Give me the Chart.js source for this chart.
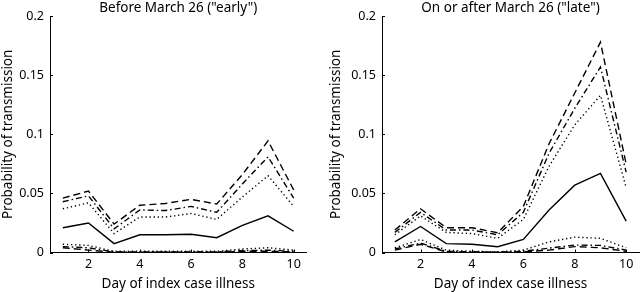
<!DOCTYPE html>
<html><head><meta charset="utf-8">
<script src="https://cdn.jsdelivr.net/npm/chart.js@4"></script>
<style>
html,body{margin:0;padding:0;background:#fff;}
#wrap{position:relative;width:640px;height:292px;overflow:hidden;}
canvas{position:absolute;top:0;}
</style></head><body>
<div id="wrap">
<canvas id="early" width="312" height="292" style="left:0"></canvas>
<canvas id="late" width="320" height="292" style="left:320px"></canvas>
</div>
<script>
const days = [1, 2, 3, 4, 5, 6, 7, 8, 9, 10];
const xTicks = [2, 4, 6, 8, 10];
const yTicks = [0, 0.05, 0.1, 0.15, 0.2];
const yTickLabels = ['0', '0.05', '0.1', '0.15', '0.2'];
const titles = ['Before March 26 ("early")', 'On or after March 26 ("late")'];
const xTitle = 'Day of index case illness';
const yTitle = 'Probability of transmission';

// Early (before March 26)
const solidEarly    = [0.021, 0.025, 0.0075, 0.015, 0.015, 0.0155, 0.0125, 0.023, 0.031, 0.018];
const dashEarly     = [0.046, 0.052, 0.024, 0.040, 0.0415, 0.045, 0.041, 0.066, 0.0945, 0.053];
const dashDotEarly  = [0.043, 0.048, 0.020, 0.036, 0.0355, 0.039, 0.034, 0.058, 0.081, 0.046];
const dotEarly      = [0.037, 0.042, 0.016, 0.030, 0.030, 0.033, 0.028, 0.047, 0.065, 0.039];
const dotLowEarly     = [0.007, 0.006, 0.001, 0.001, 0.001, 0.001, 0.001, 0.003, 0.004, 0.002];
const dashDotLowEarly = [0.005, 0.004, 0.0005, 0.0005, 0.0005, 0.0005, 0.0005, 0.0015, 0.002, 0.001];
const dashLowEarly    = [0.004, 0.002, 0.0003, 0.0002, 0.0002, 0.0002, 0.0002, 0.001, 0.001, 0.0005];

// Late (on or after March 26)
const solidLate    = [0.009, 0.022, 0.0075, 0.007, 0.0049, 0.011, 0.036, 0.057, 0.067, 0.0265];
const dashLate     = [0.019, 0.037, 0.021, 0.021, 0.0167, 0.039, 0.092, 0.135, 0.178, 0.075];
const dashDotLate  = [0.017, 0.034, 0.019, 0.019, 0.015, 0.034, 0.084, 0.122, 0.157, 0.068];
const dotLate      = [0.015, 0.031, 0.017, 0.016, 0.012, 0.028, 0.073, 0.108, 0.133, 0.055];
const dotLowLate     = [0.004, 0.011, 0.002, 0.001, 0.0005, 0.002, 0.009, 0.013, 0.012, 0.004];
const dashDotLowLate = [0.003, 0.008, 0.001, 0.0005, 0.0003, 0.001, 0.0037, 0.0063, 0.006, 0.002];
const dashLowLate    = [0.002, 0.007, 0.0005, 0.0003, 0.0002, 0.0005, 0.002, 0.005, 0.004, 0.001];

const FAMILY = '"Noto Sans", "Open Sans", sans-serif';
const STYLE = {
  solid:   [],
  dash:    [7, 4],
  dashdot: [6, 3, 1.5, 3],
  dot:     [1.3, 2.8]
};

function ds(values, kind) {
  return {
    data: days.map((d, i) => ({x: d, y: values[i]})),
    borderColor: '#000',
    borderWidth: 1.4,
    borderDash: STYLE[kind],
    pointRadius: 0,
    fill: false,
    tension: 0
  };
}

const inwardTicks = {
  id: 'inwardTicks',
  afterDraw(chart) {
    const ctx = chart.ctx;
    const {left, bottom} = chart.chartArea;
    const xs = chart.scales.x, ys = chart.scales.y;
    ctx.save();
    ctx.strokeStyle = '#000';
    ctx.lineWidth = 1;
    ctx.beginPath();
    xs.ticks.forEach(t => {
      const px = Math.round(xs.getPixelForValue(t.value)) + 0.5;
      ctx.moveTo(px, bottom);
      ctx.lineTo(px, bottom - 3);
    });
    ys.ticks.forEach(t => {
      const py = Math.round(ys.getPixelForValue(t.value)) + 0.5;
      ctx.moveTo(left, py);
      ctx.lineTo(left + 3, py);
    });
    ctx.stroke();
    ctx.restore();
  }
};

function makeChart(id, title, series, padLeft, yWidth, padRight) {
  return new Chart(document.getElementById(id), {
    type: 'line',
    data: {datasets: series},
    plugins: [inwardTicks],
    options: {
      responsive: false,
      animation: false,
      events: [],
      layout: {padding: {left: padLeft, right: padRight, top: 0, bottom: 0}},
      plugins: {
        legend: {display: false},
        tooltip: {enabled: false},
        title: {
          display: true, text: title, fullSize: false, color: '#000',
          font: {family: FAMILY, size: 13.5, weight: 'normal'},
          padding: {top: 0, bottom: 0}
        }
      },
      scales: {
        x: {
          type: 'linear', min: 0.5, max: 10.5,
          afterBuildTicks: s => { s.ticks = xTicks.map(v => ({value: v})); },
          afterFit: s => { s.height = 39.5; },
          grid: {display: false, drawTicks: false},
          border: {display: true, color: '#000', width: 1},
          ticks: {color: '#000', font: {family: FAMILY, size: 12.5}, padding: 4, maxRotation: 0,
                  callback: v => String(v)},
          title: {display: true, text: xTitle, color: '#000',
                  font: {family: FAMILY, size: 13.5}, padding: 0}
        },
        y: {
          type: 'linear', min: 0, max: 0.2,
          afterBuildTicks: s => { s.ticks = yTicks.map(v => ({value: v})); },
          afterFit: s => { s.width = yWidth; },
          grid: {display: false, drawTicks: false},
          border: {display: true, color: '#000', width: 1},
          ticks: {color: '#000', font: {family: FAMILY, size: 12.5}, padding: 6,
                  callback: v => yTickLabels[yTicks.indexOf(v)]},
          title: {display: true, text: yTitle, color: '#000',
                  font: {family: FAMILY, size: 13.5}, padding: 0}
        }
      }
    }
  });
}

makeChart('early', titles[0], [
  ds(solidEarly, 'solid'), ds(dashEarly, 'dash'), ds(dashDotEarly, 'dashdot'), ds(dotEarly, 'dot'),
  ds(dotLowEarly, 'dot'), ds(dashDotLowEarly, 'dashdot'), ds(dashLowEarly, 'dash')
], 0, 50, 5.5);

makeChart('late', titles[1], [
  ds(solidLate, 'solid'), ds(dashLate, 'dash'), ds(dashDotLate, 'dashdot'), ds(dotLate, 'dot'),
  ds(dotLowLate, 'dot'), ds(dashDotLowLate, 'dashdot'), ds(dashLowLate, 'dash')
], 8, 54, 1);
</script>
</body></html>
